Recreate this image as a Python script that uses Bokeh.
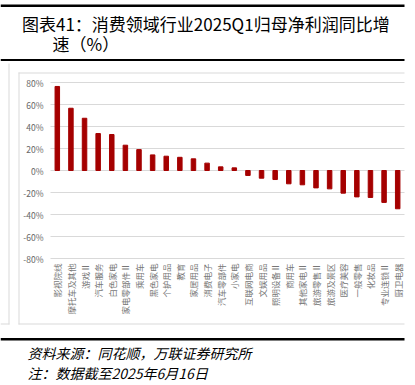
import math
from bokeh.plotting import figure
from bokeh.models import Range1d
from bokeh.core.properties import value
from bokeh.embed import file_html
from bokeh.resources import INLINE

# ---- data ----
categories = ["影视院线", "摩托车及其他", "游戏Ⅱ", "汽车服务", "白色家电", "家电零部件Ⅱ",
              "乘用车", "黑色家电", "个护用品", "教育", "家居用品", "消费电子",
              "汽车零部件", "小家电", "互联网电商", "文娱用品", "照明设备Ⅱ", "商用车",
              "其他家电Ⅱ", "旅游零售Ⅱ", "旅游及景区", "医疗美容", "一般零售", "化妆品",
              "专业连锁Ⅱ", "厨卫电器"]
growth = [76.4, 56.6, 47.5, 33.6, 32.7, 23.0, 19.0, 14.2, 13.0, 12.0, 10.6, 6.7,
          3.3, 2.4, -4.5, -7.0, -8.2, -12.1, -13.0, -15.8, -16.7, -20.6, -24.0,
          -24.5, -29.0, -34.8]
y_ticks = [-80, -60, -40, -20, 0, 20, 40, 60, 80]
y_tick_labels = ["-80%", "-60%", "-40%", "-20%", "0%", "20%", "40%", "60%", "80%"]
title_line1 = "图表41：消费领域行业2025Q1归母净利润同比增"
title_line2 = "速（%）"
source_text = "资料来源：同花顺，万联证券研究所"
note_text = "注：数据截至2025年6月16日"

CJK = "Noto Sans CJK SC"
W, H = 415, 385

# ---- layout constants (pixels from top-left of the page) ----
PLOT_L, PLOT_R = 50, 404        # plot area horizontal extent
ZERO_Y, PX_PER_PCT = 170, 1.1   # vertical position of 0% and pixels per percent


def Y(y):
    """page pixel row -> default (upward) y coordinate"""
    return H - y


p = figure(width=W, height=H, output_backend="svg", toolbar_location=None,
           x_range=Range1d(0, W), y_range=Range1d(0, H),
           x_axis_location=None, y_axis_location=None,
           min_border=0, min_border_left=0, min_border_right=0,
           min_border_top=0, min_border_bottom=0)
p.outline_line_color = None
p.background_fill_color = "white"
p.border_fill_color = "white"
p.grid.visible = False

# value scale and category scale for the chart itself
n = len(categories)
step = (PLOT_R - PLOT_L) / n
p.extra_y_ranges = {"pct": Range1d(start=-(H - ZERO_Y) / PX_PER_PCT,
                                   end=ZERO_Y / PX_PER_PCT)}
p.extra_x_ranges = {"cat": Range1d(start=-PLOT_L / step,
                                   end=n + (W - PLOT_R) / step)}
cat_x = [i + 0.5 for i in range(n)]

# gridlines
p.segment(x0=[PLOT_L] * len(y_ticks), x1=[PLOT_R] * len(y_ticks),
          y0=y_ticks, y1=y_ticks, y_range_name="pct",
          line_color="#D9D9D9", line_width=1)

# bars
p.vbar(x=cat_x, bottom=0, top=growth, width=0.33, x_range_name="cat",
       y_range_name="pct", fill_color="#A50000", line_color="#A50000")

# y tick labels
p.text(x=[43] * len(y_ticks), y=y_ticks, text=y_tick_labels, y_range_name="pct",
       text_align="right", text_baseline="middle", text_font=value(CJK),
       text_font_size="8.5px", text_color="#666666")

# category labels (rotated, reading bottom-to-top, anchored under the plot)
p.text(x=cat_x, y=[Y(263)] * n, text=categories, x_range_name="cat",
       angle=math.pi / 2, text_align="right", text_baseline="middle",
       text_font=value(CJK), text_font_size="8.5px", text_color="#777777")

# ---- page decorations ----
def bar_rule(x0, x1, y0, y1, color):
    p.quad(left=[x0], right=[x1], top=[Y(y0)], bottom=[Y(y1)],
           fill_color=color, line_color=None)

bar_rule(0, 404, 4, 6.5, "black")          # top rule
bar_rule(0, 404, 58.5, 60.5, "black")      # rule under the title
bar_rule(0, 404, 337.5, 340, "black")      # rule above the source
bar_rule(18, 404, 72, 73, "#D9D9D9")       # chart box top
bar_rule(18, 19, 72, 324, "#D9D9D9")       # chart box left
bar_rule(18, 404, 323, 324, "#D9D9D9")     # chart box bottom
bar_rule(8, 9, 63, 324, "#D9D9D9")         # neighbouring box edge
bar_rule(0, 9, 323, 324, "#D9D9D9")

p.text(x=[21.5, 52], y=[Y(22.7), Y(42.7)], text=[title_line1, title_line2],
       text_align="left", text_baseline="middle", text_font=value(CJK),
       text_font_size="17px", text_color="black")
p.text(x=[27, 27], y=[Y(352), Y(372)], text=[source_text, note_text],
       text_align="left", text_baseline="middle", text_font=value(CJK),
       text_font_size="14px", text_font_style="italic", text_color="black")

open("out.html", "w").write(file_html(p, INLINE))
